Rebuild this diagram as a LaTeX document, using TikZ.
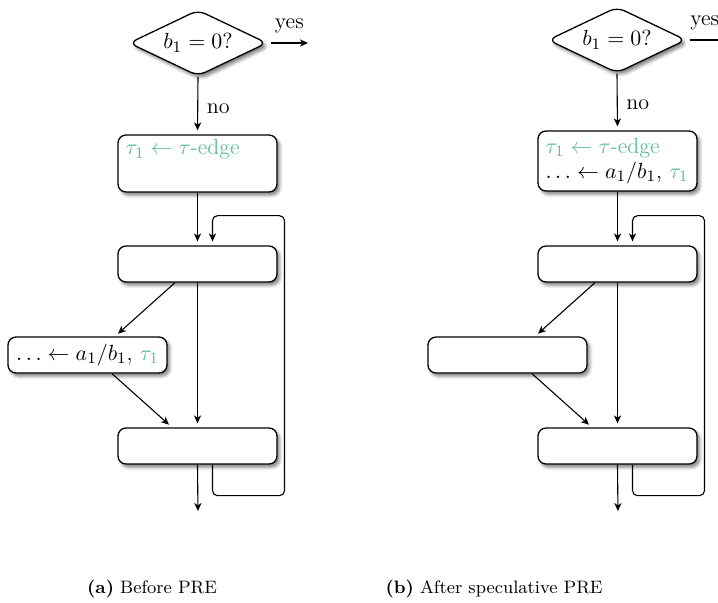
\documentclass[tikz,border=0pt]{standalone}
\usetikzlibrary{shapes.geometric,arrows.meta,shadows.blur}
\definecolor{tealg}{RGB}{95,190,155}
\begin{document}
\begin{tikzpicture}[x=0.5pt,y=-0.5pt,
  font=\fontsize{11}{12.5}\selectfont,
  shd/.style={blur shadow={shadow xshift=1.3pt, shadow yshift=-1.6pt, shadow blur radius=1.6pt, shadow opacity=50}},
  box/.style={draw, rounded corners=4pt, fill=white, line width=0.65pt,
    minimum width=79.5pt, minimum height=18pt, inner sep=0pt, shd},
  tbox/.style={box, align=left, text width=72pt},
  dec/.style={diamond, draw, fill=white, line width=0.65pt, aspect=2.1,
    minimum width=69pt, minimum height=33pt, inner sep=0pt, rounded corners=4pt, shd},
  arr/.style={-{Stealth[length=4pt,width=3.6pt,inset=1.2pt]}, line width=0.55pt},
  sarr/.style={arr, shorten >=2pt},
  loop/.style={sarr, rounded corners=2.5pt},
  captext/.style={font=\fontsize{9}{11}\selectfont}
]
\useasboundingbox (0,0) rectangle (718,602);

% ---------- (a) ----------
\node[dec] (d1) at (198,43) {$b_1=0?$};
\coordinate (y1) at (308,43);
\node[tbox, minimum height=28.5pt] (t1) at (197.5,163.5)
  {\textcolor{tealg}{$\tau_1\leftarrow\tau$-edge}\\\strut};
\node[box] (m1) at (197.5,264) {};
\node[box] (s1) at (87.5,355) {$\ldots\leftarrow a_1/b_1$,\ \textcolor{tealg}{$\tau_1$}};
\node[box] (b1) at (197.5,446) {};
\coordinate (e1) at (198,515);

\draw[arr] ([xshift=1.5pt]d1.east) -- (y1) node[midway, above=1.5pt] {yes};
\draw[sarr] (d1.south) -- (t1.north) node[pos=0.55, right=1pt] {no};
\draw[sarr] (t1.south) -- (m1.north);
\draw[sarr] ([xshift=-11.25pt]m1.south) -- ([xshift=13.75pt]s1.north);
\draw[sarr] (m1.south) -- (b1.north);
\draw[sarr] ([xshift=12.25pt]s1.south) -- ([xshift=-12.75pt]b1.north);
\draw[sarr] (b1.south) -- (e1);
\draw[loop] ([xshift=7.5pt]b1.south) -- ++(0,31) -| ++(72,-280) -| ([xshift=7.5pt]m1.north);

% ---------- (b) ----------
\begin{scope}[xshift=210pt]
\node[dec] (d2) at (197,40) {$b_1=0?$};
\coordinate (y2) at (320,40);
\node[tbox, minimum height=30pt] (t2) at (197.5,161)
  {\textcolor{tealg}{$\tau_1\leftarrow\tau$-edge}\\$\ldots\leftarrow a_1/b_1$,\ \textcolor{tealg}{$\tau_1$}};
\node[box] (m2) at (197.5,264) {};
\node[box] (s2) at (87.5,355) {};
\node[box] (b2) at (197.5,446) {};
\coordinate (e2) at (198,515);

\draw[arr] ([xshift=1.5pt]d2.east) -- (y2) node[pos=0.3, above=1.5pt] {yes};
\draw[sarr] (d2.south) -- (t2.north) node[pos=0.55, right=1pt] {no};
\draw[sarr] (t2.south) -- (m2.north);
\draw[sarr] ([xshift=-11.25pt]m2.south) -- ([xshift=13.75pt]s2.north);
\draw[sarr] (m2.south) -- (b2.north);
\draw[sarr] ([xshift=12.25pt]s2.south) -- ([xshift=-12.75pt]b2.north);
\draw[sarr] (b2.south) -- (e2);
\draw[loop] ([xshift=7.5pt]b2.south) -- ++(0,31) -| ++(72,-280) -| ([xshift=7.5pt]m2.north);
\end{scope}

% ---------- captions ----------
\node[captext] (ca) at (152,589) {\textbf{(a)} Before PRE};
\node[captext] (cb) at (494,589) {\textbf{(b)} After speculative PRE};
\end{tikzpicture}
\end{document}
